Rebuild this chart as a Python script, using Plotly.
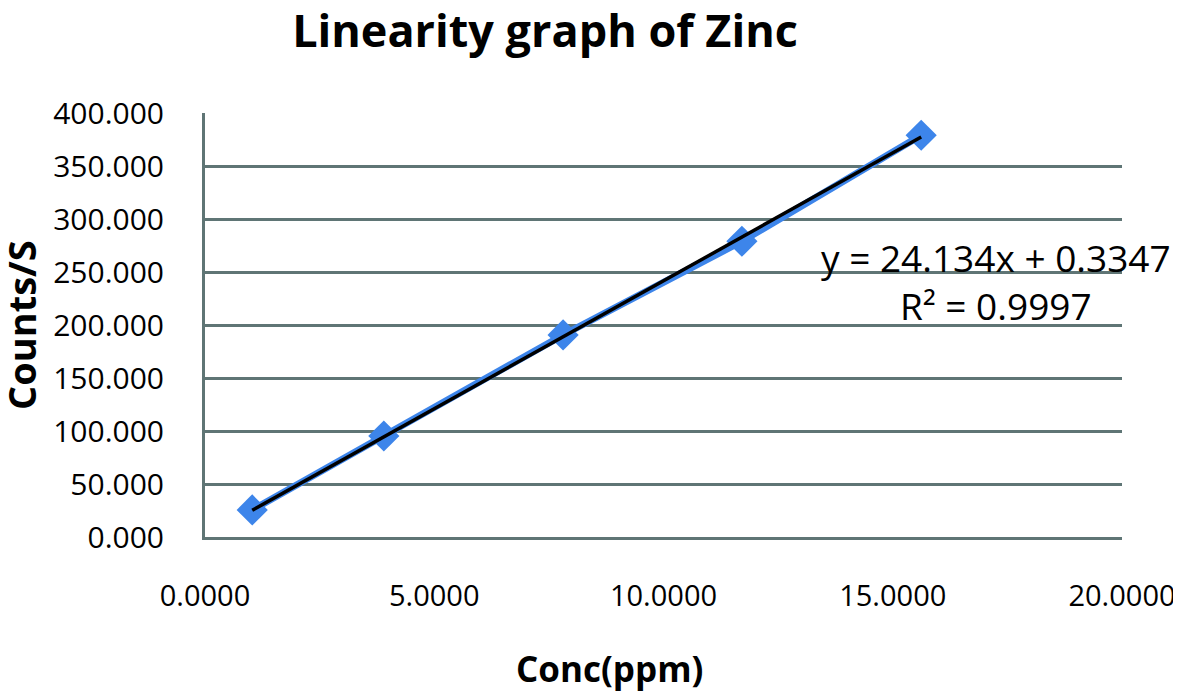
import plotly.graph_objects as go

# data
conc = [1.03, 3.9, 7.81, 11.71, 15.62]
counts = [25.5, 95.3, 190.6, 279.0, 379.0]

slope = 24.134
intercept = 0.3347
r_squared = 0.9997
fit_x = [min(conc), max(conc)]
fit_y = [slope * v + intercept for v in fit_x]

y_ticks = [0, 50, 100, 150, 200, 250, 300, 350, 400]
x_ticks = [0, 5, 10, 15, 20]

grid_col = "#5f7575"
font_family = "Open Sans, sans-serif"

# the page body has an 8px margin, so draw everything 8px up/left
OFF = 8
W, H = 1181 - OFF, 691 - OFF
# plot area in screen pixels (from the reference)
L, R, T, B = 205 - OFF, 1122 - OFF, 113 - OFF, 537 - OFF


def px_x(p):
    return (p - OFF - L) / (R - L)


def px_y(p):
    return (B - (p - OFF)) / (B - T)


fig = go.Figure()

fig.add_trace(go.Scatter(
    x=conc, y=counts,
    mode="lines+markers",
    line=dict(color="#3d85ea", width=7),
    marker=dict(symbol="diamond", size=24, color="#3d85ea"),
    showlegend=False,
))

fig.add_trace(go.Scatter(
    x=fit_x, y=fit_y,
    mode="lines",
    line=dict(color="black", width=3.5),
    showlegend=False,
))

# trendline equation
fig.add_annotation(
    x=px_x(996), y=px_y(281), xref="paper", yref="paper",
    text=f"y = {slope}x + {intercept}<br>R² = {r_squared}",
    showarrow=False, align="center",
    xanchor="center", yanchor="middle",
    font=dict(size=37, color="black", family=font_family),
)

# axis titles
fig.add_annotation(
    x=px_x(609), y=px_y(668), xref="paper", yref="paper",
    text="<b>Conc(ppm)</b>", showarrow=False,
    xanchor="center", yanchor="middle",
    font=dict(size=35, color="black", family=font_family),
)
fig.add_annotation(
    x=px_x(21), y=px_y(325), xref="paper", yref="paper",
    text="<b>Counts/S</b>", showarrow=False, textangle=-90,
    xanchor="center", yanchor="middle",
    font=dict(size=38, color="black", family=font_family),
)

fig.update_layout(
    width=W, height=H,
    margin=dict(l=L, r=W - R, t=T, b=H - B),
    paper_bgcolor="white",
    plot_bgcolor="white",
    font=dict(family=font_family, color="black"),
    title=dict(
        text="<b>Linearity graph of Zinc</b>",
        x=(545 - OFF) / W, xanchor="center",
        y=1 - (31 - OFF) / H, yanchor="middle",
        font=dict(size=45, color="black", family=font_family),
    ),
)

fig.update_xaxes(
    range=[0, 20],
    tickvals=x_ticks,
    ticktext=[f"{v:.4f}" for v in x_ticks],
    tickfont=dict(size=29),
    showgrid=False,
    showline=True, linecolor=grid_col, linewidth=3,
    zeroline=False, automargin=False,
    ticks="", ticklabelstandoff=31,
)

fig.update_yaxes(
    range=[0, 400],
    tickvals=y_ticks,
    ticktext=[f"{v:.3f}" for v in y_ticks],
    tickfont=dict(size=30),
    showgrid=True, gridcolor=grid_col, gridwidth=2.5,
    showline=True, linecolor=grid_col, linewidth=3,
    zeroline=False, automargin=False,
    ticks="", ticklabelstandoff=32,
)

fig.write_html("out.html")
